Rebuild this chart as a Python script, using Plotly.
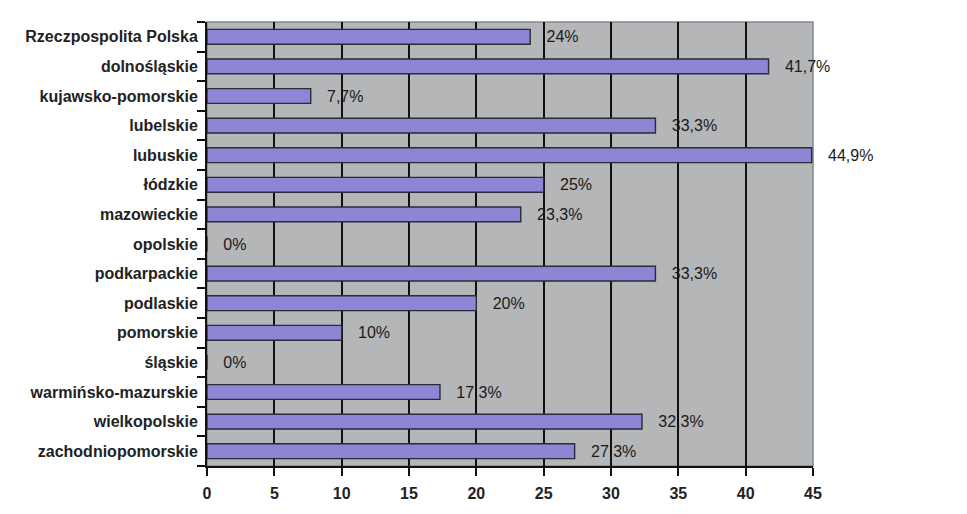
import plotly.graph_objects as go

categories = ["Rzeczpospolita Polska", "dolnośląskie", "kujawsko-pomorskie", "lubelskie",
              "lubuskie", "łódzkie", "mazowieckie", "opolskie", "podkarpackie", "podlaskie",
              "pomorskie", "śląskie", "warmińsko-mazurskie", "wielkopolskie", "zachodniopomorskie"]
values = [24, 41.7, 7.7, 33.3, 44.9, 25, 23.3, 0, 33.3, 20, 10, 0, 17.3, 32.3, 27.3]
labels = ["24%", "41,7%", "7,7%", "33,3%", "44,9%", "25%", "23,3%", "0%", "33,3%", "20%",
          "10%", "0%", "17,3%", "32,3%", "27,3%"]
x_ticks = [0, 5, 10, 15, 20, 25, 30, 35, 40, 45]

fig = go.Figure(go.Bar(
    y=categories, x=values, orientation="h",
    text=["\u00a0\u00a0\u00a0" + t for t in labels], textposition="outside", cliponaxis=False,
    constraintext="none",
    textfont=dict(family="Arial, Liberation Sans", size=16, color="#1a1a1a"),
    marker=dict(color="#8C86D4", line=dict(color="#2a2a3a", width=1.4)),
))

fig.update_layout(
    width=967, height=514,
    margin=dict(l=207, r=154, t=22, b=44),
    paper_bgcolor="white", plot_bgcolor="#B5B6B8",
    bargap=0.5, showlegend=False,
    font=dict(family="Arial, Liberation Sans", color="#222222"),
)
fig.update_xaxes(
    range=[0, 45], tickvals=x_ticks, ticktext=["<b>%d</b>" % t for t in x_ticks],
    showgrid=True, gridcolor="#111111", gridwidth=1.5,
    showline=True, linecolor="#111111", linewidth=2,
    ticks="outside", ticklen=8, tickcolor="#111111", tickwidth=1.5,
    tickfont=dict(size=16, family="Arial, Liberation Sans", color="#222222"),
    ticklabelstandoff=4,
    zeroline=False,
)
fig.update_yaxes(
    autorange="reversed", tickson="boundaries",
    showline=True, linecolor="#111111", linewidth=2,
    ticks="outside", ticklen=8, tickcolor="#111111", tickwidth=1.5,
    tickfont=dict(size=16, family="Arial, Liberation Sans", color="#222222"),
    ticklabelstandoff=4,
    showgrid=False,
)
fig.update_yaxes(ticktext=["<b>%s</b>" % c for c in categories], tickvals=categories)
fig.add_shape(type="rect", xref="paper", yref="paper", x0=0, x1=1, y0=0, y1=1,
              line=dict(color="#808890", width=1.5), layer="below")

fig.write_html("out.html")
